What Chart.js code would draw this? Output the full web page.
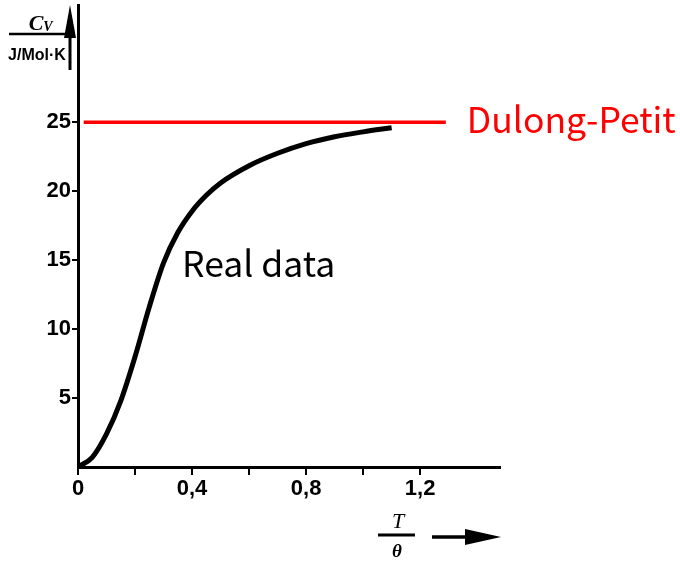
<!DOCTYPE html>
<html>
<head>
<meta charset="utf-8">
<script src="https://cdn.jsdelivr.net/npm/chart.js@4"></script>
<style>
  html, body { margin: 0; padding: 0; background: #fff; }
  #wrap { width: 680px; height: 561px; }
</style>
</head>
<body>
<div id="wrap"><canvas id="cvChart" width="680" height="561"></canvas></div>
<script>
// measured heat capacity curve (T/theta vs Cv)
const tempRatio = [0, 0.05, 0.10, 0.15, 0.20, 0.25, 0.30, 0.35, 0.40, 0.45, 0.50, 0.60, 0.70, 0.80, 0.90, 1.00, 1.10];
const heatCap   = [0, 0.7, 2.4, 4.8, 8.0, 11.6, 14.8, 17.0, 18.55, 19.7, 20.6, 21.85, 22.75, 23.45, 23.95, 24.3, 24.6];

// Dulong-Petit limit
const dulongValue = 25;
const dulongRange = [0.02, 1.29];

const xTicks = [0, 0.2, 0.4, 0.6, 0.8, 1.0, 1.2];
const xTickLabels = ['0', '', '0,4', '', '0,8', '', '1,2'];
const yTicks = [5, 10, 15, 20, 25];
const yTickLabels = ['5', '10', '15', '20', '25'];

const tickFont = { family: "'Liberation Sans Narrow', 'Liberation Sans', Arial", size: 22, weight: 'bold' };
const noteFont = "35.5px 'Noto Sans CJK KR', 'Noto Sans', sans-serif";

// hand drawn bits: axis arrows, fraction titles, notes
const decorations = {
    id: 'decorations',
    afterDraw(chart) {
        const ctx = chart.ctx;
        const xs = chart.scales.x, ys = chart.scales.y;
        ctx.save();
        ctx.fillStyle = '#000';
        ctx.strokeStyle = '#000';

        // y title: Cv over J/Mol·K
        ctx.textAlign = 'center';
        ctx.textBaseline = 'alphabetic';
        ctx.font = "italic bold 22px 'Liberation Serif', serif";
        ctx.fillText('C', 36, 30);
        ctx.font = "italic bold 14px 'Liberation Serif', serif";
        ctx.fillText('V', 48, 31);
        ctx.lineWidth = 2.5;
        ctx.beginPath(); ctx.moveTo(9, 34); ctx.lineTo(66, 34); ctx.stroke();
        ctx.font = "bold 16px 'Liberation Sans Narrow', 'Liberation Sans', Arial";
        ctx.fillText('J/Mol·K', 37, 60);

        // y arrow
        ctx.lineWidth = 3;
        ctx.beginPath(); ctx.moveTo(70, 70); ctx.lineTo(70, 28); ctx.stroke();
        ctx.beginPath(); ctx.moveTo(70, 5); ctx.lineTo(76, 38); ctx.lineTo(64, 38); ctx.closePath(); ctx.fill();

        // x title: T over theta
        ctx.font = "italic 22px 'Liberation Serif', serif";
        ctx.fillText('T', 398, 528);
        ctx.lineWidth = 3;
        ctx.beginPath(); ctx.moveTo(378, 535); ctx.lineTo(415, 535); ctx.stroke();
        ctx.font = "italic bold 19px 'Liberation Serif', serif";
        ctx.fillText('θ', 397, 557);

        // x arrow
        ctx.lineWidth = 3.5;
        ctx.beginPath(); ctx.moveTo(432, 537); ctx.lineTo(475, 537); ctx.stroke();
        ctx.beginPath(); ctx.moveTo(501, 537); ctx.lineTo(465, 529); ctx.lineTo(465, 545); ctx.closePath(); ctx.fill();

        // notes
        ctx.textAlign = 'left';
        ctx.font = noteFont;
        ctx.fillStyle = '#000';
        ctx.fillText('Real data', xs.getPixelForValue(0.365), ys.getPixelForValue(13.8));
        ctx.fillStyle = '#ff0000';
        ctx.textBaseline = 'middle';
        ctx.fillText('Dulong-Petit', xs.getPixelForValue(dulongRange[1]) + 21, ys.getPixelForValue(dulongValue) - 3);
        ctx.restore();
    }
};

const noMargins = s => { s.paddingTop = 0; s.paddingBottom = 0; s.paddingLeft = 0; s.paddingRight = 0; };

new Chart(document.getElementById('cvChart'), {
    type: 'line',
    data: {
        datasets: [{
            label: 'Real data',
            data: tempRatio.map((t, i) => ({ x: t, y: heatCap[i] })),
            borderColor: '#000',
            borderWidth: 5,
            pointRadius: 0,
            cubicInterpolationMode: 'monotone',
            fill: false
        }, {
            label: 'Dulong-Petit',
            data: dulongRange.map(t => ({ x: t, y: dulongValue })),
            borderColor: '#ff0000',
            borderWidth: 3.5,
            pointRadius: 0,
            fill: false
        }]
    },
    options: {
        responsive: false,
        animation: false,
        layout: { padding: { left: 0, right: 180, top: 5, bottom: 0 } },
        plugins: { legend: { display: false }, tooltip: { enabled: false } },
        scales: {
            x: {
                type: 'linear',
                min: 0,
                max: 1.48,
                afterBuildTicks: s => { s.ticks = xTicks.map(v => ({ value: v })); },
                afterFit: s => { s.height = 94; noMargins(s); },
                grid: { drawOnChartArea: false, color: '#000', tickLength: 8, lineWidth: 2 },
                border: { display: true, color: '#000', width: 3 },
                ticks: {
                    autoSkip: false,
                    maxRotation: 0,
                    color: '#000',
                    font: tickFont,
                    padding: 1,
                    callback: (v, i) => xTickLabels[i]
                }
            },
            y: {
                type: 'linear',
                min: 0,
                max: 33.5,
                afterBuildTicks: s => { s.ticks = yTicks.map(v => ({ value: v })); },
                afterFit: s => { s.width = 78; noMargins(s); },
                grid: { drawOnChartArea: false, color: '#000', tickLength: 6, lineWidth: 2 },
                border: { display: true, color: '#000', width: 3 },
                ticks: {
                    color: '#000',
                    font: tickFont,
                    padding: 1,
                    callback: (v, i) => yTickLabels[i]
                }
            }
        }
    },
    plugins: [decorations]
});
</script>
</body>
</html>
